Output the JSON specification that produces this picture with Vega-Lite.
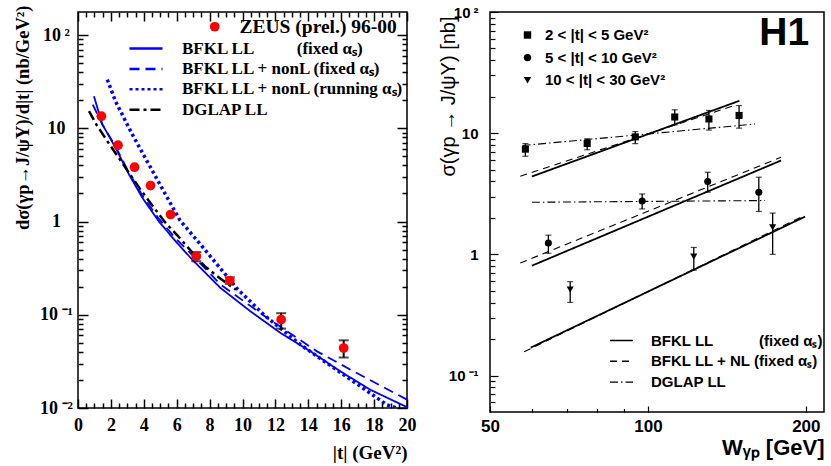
{
  "$schema": "https://vega.github.io/schema/vega-lite/v6.json",
  "background": "white",
  "padding": {"left": 12, "top": 4, "right": 0, "bottom": 0},
  "spacing": 83,
  "bounds": "flush",
  "resolve": {
    "scale": {"stroke": "independent", "strokeDash": "independent", "fill": "independent", "shape": "independent"},
    "legend": {"stroke": "independent", "strokeDash": "independent", "fill": "independent", "shape": "independent"}
  },
  "datasets": {
    "zeus": [
      {"t": 1.42, "xs": 13.5, "exp": "ZEUS (prel.) 96-00"},
      {"t": 2.43, "xs": 6.59, "exp": "ZEUS (prel.) 96-00"},
      {"t": 3.44, "xs": 3.83, "exp": "ZEUS (prel.) 96-00"},
      {"t": 4.41, "xs": 2.43, "exp": "ZEUS (prel.) 96-00"},
      {"t": 5.63, "xs": 1.19, "exp": "ZEUS (prel.) 96-00"},
      {"t": 7.19, "xs": 0.424, "lo": 0.375, "hi": 0.47, "exp": "ZEUS (prel.) 96-00"},
      {"t": 9.23, "xs": 0.233, "lo": 0.215, "hi": 0.252, "exp": "ZEUS (prel.) 96-00"},
      {"t": 12.35, "xs": 0.0887, "lo": 0.0711, "hi": 0.104, "exp": "ZEUS (prel.) 96-00"},
      {"t": 16.15, "xs": 0.044, "lo": 0.0348, "hi": 0.0532, "exp": "ZEUS (prel.) 96-00"}
    ],
    "curves": [
      {"model": "LL", "t": 0.97, "xs": 22.1},
      {"model": "LL", "t": 1.48, "xs": 11.0},
      {"model": "LL", "t": 2.28, "xs": 6.2},
      {"model": "LL", "t": 3.1, "xs": 3.2},
      {"model": "LL", "t": 3.91, "xs": 1.8},
      {"model": "LL", "t": 4.92, "xs": 1.0},
      {"model": "LL", "t": 5.93, "xs": 0.615},
      {"model": "LL", "t": 6.94, "xs": 0.391},
      {"model": "LL", "t": 8.66, "xs": 0.194},
      {"model": "LL", "t": 10.48, "xs": 0.109},
      {"model": "LL", "t": 12.31, "xs": 0.0638},
      {"model": "LL", "t": 14.13, "xs": 0.0405},
      {"model": "LL", "t": 15.95, "xs": 0.0247},
      {"model": "LL", "t": 17.77, "xs": 0.0157},
      {"model": "LL", "t": 20.0, "xs": 0.0102},
      {"model": "NLfix", "t": 0.9, "xs": 18.0},
      {"model": "NLfix", "t": 1.48, "xs": 11.0},
      {"model": "NLfix", "t": 2.3, "xs": 6.3},
      {"model": "NLfix", "t": 3.1, "xs": 3.35},
      {"model": "NLfix", "t": 3.9, "xs": 1.92},
      {"model": "NLfix", "t": 4.9, "xs": 1.08},
      {"model": "NLfix", "t": 5.9, "xs": 0.67},
      {"model": "NLfix", "t": 6.94, "xs": 0.44},
      {"model": "NLfix", "t": 8.66, "xs": 0.211},
      {"model": "NLfix", "t": 11.5, "xs": 0.0925},
      {"model": "NLfix", "t": 14.53, "xs": 0.0405},
      {"model": "NLfix", "t": 16.76, "xs": 0.0247},
      {"model": "NLfix", "t": 20.0, "xs": 0.0123},
      {"model": "NLrun", "t": 1.78, "xs": 33.4},
      {"model": "NLrun", "t": 2.28, "xs": 19.5},
      {"model": "NLrun", "t": 3.3, "xs": 8.6},
      {"model": "NLrun", "t": 4.31, "xs": 4.09},
      {"model": "NLrun", "t": 5.32, "xs": 1.95},
      {"model": "NLrun", "t": 6.2, "xs": 1.03},
      {"model": "NLrun", "t": 7.45, "xs": 0.567},
      {"model": "NLrun", "t": 9.68, "xs": 0.19},
      {"model": "NLrun", "t": 11.3, "xs": 0.1},
      {"model": "NLrun", "t": 13.52, "xs": 0.0478},
      {"model": "NLrun", "t": 15.55, "xs": 0.0269},
      {"model": "NLrun", "t": 17.16, "xs": 0.0171},
      {"model": "NLrun", "t": 18.78, "xs": 0.0108},
      {"model": "NLrun", "t": 19.4, "xs": 0.01},
      {"model": "DGLAP", "t": 0.67, "xs": 15.3},
      {"model": "DGLAP", "t": 1.11, "xs": 11.0},
      {"model": "DGLAP", "t": 1.78, "xs": 7.3},
      {"model": "DGLAP", "t": 2.45, "xs": 4.9},
      {"model": "DGLAP", "t": 3.13, "xs": 3.27},
      {"model": "DGLAP", "t": 3.83, "xs": 2.17},
      {"model": "DGLAP", "t": 4.55, "xs": 1.46},
      {"model": "DGLAP", "t": 5.28, "xs": 0.99},
      {"model": "DGLAP", "t": 6.09, "xs": 0.695},
      {"model": "DGLAP", "t": 6.89, "xs": 0.48},
      {"model": "DGLAP", "t": 7.7, "xs": 0.332},
      {"model": "DGLAP", "t": 8.67, "xs": 0.243},
      {"model": "DGLAP", "t": 9.6, "xs": 0.186}
    ],
    "h1pts": [
      {"bin": "2 < |t| < 5 GeV²", "W": 58.4, "xs": 7.38, "lo": 6.45, "hi": 8.2},
      {"bin": "2 < |t| < 5 GeV²", "W": 76.6, "xs": 8.22, "lo": 7.3, "hi": 8.99},
      {"bin": "2 < |t| < 5 GeV²", "W": 94.6, "xs": 9.32, "lo": 8.2, "hi": 10.3},
      {"bin": "2 < |t| < 5 GeV²", "W": 112.5, "xs": 13.6, "lo": 11.7, "hi": 15.6},
      {"bin": "2 < |t| < 5 GeV²", "W": 130.7, "xs": 13.1, "lo": 10.6, "hi": 15.4},
      {"bin": "2 < |t| < 5 GeV²", "W": 149.2, "xs": 14.0, "lo": 11.0, "hi": 16.9},
      {"bin": "5 < |t| < 10 GeV²", "W": 64.6, "xs": 1.24, "lo": 1.02, "hi": 1.44},
      {"bin": "5 < |t| < 10 GeV²", "W": 97.5, "xs": 2.76, "lo": 2.37, "hi": 3.15},
      {"bin": "5 < |t| < 10 GeV²", "W": 130.0, "xs": 3.99, "lo": 3.26, "hi": 4.76},
      {"bin": "5 < |t| < 10 GeV²", "W": 162.7, "xs": 3.25, "lo": 2.26, "hi": 4.33},
      {"bin": "10 < |t| < 30 GeV²", "W": 71.1, "xs": 0.511, "lo": 0.401, "hi": 0.595},
      {"bin": "10 < |t| < 30 GeV²", "W": 122.3, "xs": 0.957, "lo": 0.742, "hi": 1.14},
      {"bin": "10 < |t| < 30 GeV²", "W": 172.9, "xs": 1.67, "lo": 1.0, "hi": 2.19}
    ],
    "h1fits": [
      {"bin": "2-5", "model": "BFKL LL", "W": 60.1, "xs": 4.39},
      {"bin": "2-5", "model": "BFKL LL", "W": 149.4, "xs": 18.5},
      {"bin": "2-5", "model": "BFKL LL + NL", "W": 57.1, "xs": 4.41},
      {"bin": "2-5", "model": "BFKL LL + NL", "W": 146.0, "xs": 16.9},
      {"bin": "2-5", "model": "DGLAP LL", "W": 57.7, "xs": 7.91},
      {"bin": "2-5", "model": "DGLAP LL", "W": 160.0, "xs": 11.9},
      {"bin": "5-10", "model": "BFKL LL", "W": 60.1, "xs": 0.806},
      {"bin": "5-10", "model": "BFKL LL", "W": 179.4, "xs": 5.95},
      {"bin": "5-10", "model": "BFKL LL + NL", "W": 57.1, "xs": 0.848},
      {"bin": "5-10", "model": "BFKL LL + NL", "W": 179.4, "xs": 6.33},
      {"bin": "5-10", "model": "DGLAP LL", "W": 60.1, "xs": 2.69},
      {"bin": "5-10", "model": "DGLAP LL", "W": 167.2, "xs": 2.78},
      {"bin": "10-30", "model": "BFKL LL", "W": 59.8, "xs": 0.17},
      {"bin": "10-30", "model": "BFKL LL", "W": 199.4, "xs": 2.05},
      {"bin": "10-30", "model": "BFKL LL + NL", "W": 58.1, "xs": 0.157},
      {"bin": "10-30", "model": "BFKL LL + NL", "W": 196.0, "xs": 2.03}
    ],
    "badge": [{"label": "H1"}]
  },
  "hconcat": [
    {
      "width": 329,
      "height": 396,
      "resolve": {"axis": {"x": "independent", "y": "independent"}},
      "layer": [
        {
          "data": {"name": "curves"},
          "transform": [{"filter": "datum.model == 'LL'"}],
          "mark": {"type": "line", "strokeWidth": 1.8, "clip": true},
          "encoding": {
            "x": {"field": "t", "type": "quantitative", "scale": {"domain": [0, 20], "nice": false, "zero": false},
              "axis": {"orient": "bottom", "values": [0, 2, 4, 6, 8, 10, 12, 14, 16, 18, 20], "tickSize": -9, "tickWidth": 1.5,
                "labelExpr": "'' + datum.value", "labelFont": "Liberation Serif", "labelFontWeight": "bold", "labelFontSize": 18, "labelPadding": 17,
                "title": "|t| (GeV²)", "titleFont": "Liberation Serif", "titleFontWeight": "bold", "titleFontSize": 19, "titleAnchor": "end", "titlePadding": 9}},
            "y": {"field": "xs", "type": "quantitative", "scale": {"type": "log", "domain": [0.01, 177], "nice": false},
              "axis": {"orient": "left", "values": [0.01, 0.1, 1, 10, 100], "tickSize": -10, "tickWidth": 1.5,
                "labelExpr": "datum.value >= 50 ? '10\u2009²' : datum.value >= 5 ? '10' : datum.value >= 0.5 ? '1' : datum.value >= 0.05 ? '10\u2009⁻¹' : '10\u2009⁻²'",
                "labelAlign": "center", "labelBaseline": "middle", "labelFont": "Liberation Serif", "labelFontWeight": "bold", "labelFontSize": 18, "labelPadding": 32,
                "title": "dσ(γp→J/ψY)/d|t| (nb/GeV²)", "titleFont": "Liberation Serif", "titleFontWeight": "bold", "titleFontSize": 18.5, "titleAnchor": "end", "titlePadding": 7, "titleY": -7}},
            "stroke": {"field": "model", "type": "nominal",
              "scale": {"domain": ["LL", "NLfix", "NLrun", "DGLAP"], "range": ["#0000ff", "#0000ff", "#0000ff", "#000000"]},
              "legend": {"orient": "none", "legendX": 50, "legendY": 28, "direction": "vertical", "title": null, "padding": 0,
                "symbolType": "stroke", "symbolSize": 1089, "symbolStrokeWidth": 2.5, "clipHeight": 17, "rowPadding": 2.4,
                "labelFont": "Liberation Serif", "labelFontWeight": "bold", "labelFontSize": 17, "labelColor": "black", "labelOffset": 18, "labelLimit": 400,
                "labelExpr": "datum.value == 'LL' ? 'BFKL LL\u00a0\u00a0\u00a0\u00a0\u00a0\u00a0\u00a0\u00a0\u00a0\u00a0(fixed αₛ)' : datum.value == 'NLfix' ? 'BFKL LL + nonL (fixed αₛ)' : datum.value == 'NLrun' ? 'BFKL LL + nonL (running αₛ)' : 'DGLAP LL'"}},
            "strokeDash": {"field": "model", "type": "nominal",
              "scale": {"domain": ["LL", "NLfix", "NLrun", "DGLAP"], "range": [[1, 0], [10, 6], [3, 3], [10, 4, 3, 4]]},
              "legend": {"orient": "none", "legendX": 50, "legendY": 28, "direction": "vertical", "title": null, "padding": 0,
                "symbolType": "stroke", "symbolSize": 1089, "symbolStrokeWidth": 2.5, "clipHeight": 17, "rowPadding": 2.4,
                "labelFont": "Liberation Serif", "labelFontWeight": "bold", "labelFontSize": 17, "labelColor": "black", "labelOffset": 18, "labelLimit": 400,
                "labelExpr": "datum.value == 'LL' ? 'BFKL LL\u00a0\u00a0\u00a0\u00a0\u00a0\u00a0\u00a0\u00a0\u00a0\u00a0(fixed αₛ)' : datum.value == 'NLfix' ? 'BFKL LL + nonL (fixed αₛ)' : datum.value == 'NLrun' ? 'BFKL LL + nonL (running αₛ)' : 'DGLAP LL'"}}
          }
        },
        {
          "data": {"name": "curves"},
          "transform": [{"filter": "datum.model == 'NLfix'"}],
          "mark": {"type": "line", "strokeWidth": 1.8, "clip": true},
          "encoding": {
            "x": {"field": "t", "type": "quantitative", "scale": {"domain": [0, 20], "nice": false, "zero": false},
              "axis": {"orient": "bottom", "values": [0.5, 1, 1.5, 2.5, 3, 3.5, 4.5, 5, 5.5, 6.5, 7, 7.5, 8.5, 9, 9.5, 10.5, 11, 11.5, 12.5, 13, 13.5, 14.5, 15, 15.5, 16.5, 17, 17.5, 18.5, 19, 19.5],
                "tickSize": -5, "tickWidth": 1.5, "labels": false, "title": null}},
            "y": {"field": "xs", "type": "quantitative", "scale": {"type": "log", "domain": [0.01, 177], "nice": false},
              "axis": {"orient": "left", "values": [0.02, 0.03, 0.04, 0.05, 0.06, 0.07, 0.08, 0.09, 0.2, 0.3, 0.4, 0.5, 0.6, 0.7, 0.8, 0.9, 2, 3, 4, 5, 6, 7, 8, 9, 20, 30, 40, 50, 60, 70, 80, 90],
                "tickSize": -5, "tickWidth": 1.5, "labels": false, "title": null}},
            "stroke": {"field": "model", "type": "nominal", "scale": {"domain": ["LL", "NLfix", "NLrun", "DGLAP"], "range": ["#0000ff", "#0000ff", "#0000ff", "#000000"]}, "legend": null},
            "strokeDash": {"field": "model", "type": "nominal", "scale": {"domain": ["LL", "NLfix", "NLrun", "DGLAP"], "range": [[1, 0], [10, 6], [3, 3], [10, 4, 3, 4]]}, "legend": null}
          }
        },
        {
          "data": {"name": "curves"},
          "transform": [{"filter": "datum.model == 'NLrun'"}],
          "mark": {"type": "line", "strokeWidth": 3.5, "clip": true},
          "encoding": {
            "x": {"field": "t", "type": "quantitative", "scale": {"domain": [0, 20], "nice": false, "zero": false},
              "axis": {"orient": "top", "values": [0, 2, 4, 6, 8, 10, 12, 14, 16, 18, 20], "tickSize": -9, "tickWidth": 1.5, "labels": false, "title": null}},
            "y": {"field": "xs", "type": "quantitative", "scale": {"type": "log", "domain": [0.01, 177], "nice": false},
              "axis": {"orient": "right", "values": [0.01, 0.1, 1, 10, 100], "tickSize": -10, "tickWidth": 1.5, "labels": false, "title": null}},
            "stroke": {"field": "model", "type": "nominal", "scale": {"domain": ["LL", "NLfix", "NLrun", "DGLAP"], "range": ["#0000ff", "#0000ff", "#0000ff", "#000000"]}, "legend": null},
            "strokeDash": {"field": "model", "type": "nominal", "scale": {"domain": ["LL", "NLfix", "NLrun", "DGLAP"], "range": [[1, 0], [10, 6], [3, 3], [10, 4, 3, 4]]}, "legend": null}
          }
        },
        {
          "data": {"name": "curves"},
          "transform": [{"filter": "datum.model == 'DGLAP'"}],
          "mark": {"type": "line", "strokeWidth": 2.5, "clip": true},
          "encoding": {
            "x": {"field": "t", "type": "quantitative", "scale": {"domain": [0, 20], "nice": false, "zero": false},
              "axis": {"orient": "top", "values": [0.5, 1, 1.5, 2.5, 3, 3.5, 4.5, 5, 5.5, 6.5, 7, 7.5, 8.5, 9, 9.5, 10.5, 11, 11.5, 12.5, 13, 13.5, 14.5, 15, 15.5, 16.5, 17, 17.5, 18.5, 19, 19.5],
                "tickSize": -5, "tickWidth": 1.5, "labels": false, "title": null}},
            "y": {"field": "xs", "type": "quantitative", "scale": {"type": "log", "domain": [0.01, 177], "nice": false},
              "axis": {"orient": "right", "values": [0.02, 0.03, 0.04, 0.05, 0.06, 0.07, 0.08, 0.09, 0.2, 0.3, 0.4, 0.5, 0.6, 0.7, 0.8, 0.9, 2, 3, 4, 5, 6, 7, 8, 9, 20, 30, 40, 50, 60, 70, 80, 90],
                "tickSize": -5, "tickWidth": 1.5, "labels": false, "title": null}},
            "stroke": {"field": "model", "type": "nominal", "scale": {"domain": ["LL", "NLfix", "NLrun", "DGLAP"], "range": ["#0000ff", "#0000ff", "#0000ff", "#000000"]}, "legend": null},
            "strokeDash": {"field": "model", "type": "nominal", "scale": {"domain": ["LL", "NLfix", "NLrun", "DGLAP"], "range": [[1, 0], [10, 6], [3, 3], [10, 4, 3, 4]]}, "legend": null}
          }
        },
        {
          "data": {"name": "zeus"},
          "transform": [{"filter": "isValid(datum.lo)"}],
          "mark": {"type": "rule", "color": "black", "strokeWidth": 2},
          "encoding": {
            "x": {"field": "t", "type": "quantitative", "axis": null},
            "y": {"field": "lo", "type": "quantitative", "axis": null},
            "y2": {"field": "hi"}
          }
        },
        {
          "data": {"name": "zeus"},
          "transform": [{"fold": ["lo", "hi"], "as": ["end", "v"]}, {"filter": "isValid(datum.v)"}],
          "mark": {"type": "tick", "orient": "horizontal", "color": "black", "size": 10, "thickness": 2},
          "encoding": {
            "x": {"field": "t", "type": "quantitative", "axis": null},
            "y": {"field": "v", "type": "quantitative", "axis": null}
          }
        },
        {
          "data": {"name": "zeus"},
          "mark": {"type": "point", "shape": "circle", "filled": true, "size": 95, "opacity": 1},
          "encoding": {
            "x": {"field": "t", "type": "quantitative", "axis": null},
            "y": {"field": "xs", "type": "quantitative", "axis": null},
            "fill": {"field": "exp", "type": "nominal", "scale": {"range": ["#ff0000"]},
              "legend": {"orient": "none", "legendX": 127, "legendY": 5, "title": null, "padding": 0, "symbolType": "circle", "symbolSize": 95,
                "labelFont": "Liberation Serif", "labelFontWeight": "bold", "labelFontSize": 19.5, "labelColor": "black", "labelOffset": 15, "labelLimit": 400}}
          }
        }
      ]
    },
    {
      "width": 334,
      "height": 400,
      "resolve": {"axis": {"x": "independent", "y": "independent"}},
      "layer": [
        {
          "data": {"name": "h1fits"},
          "transform": [{"filter": "datum.model == 'BFKL LL'"}],
          "mark": {"type": "line", "color": "black", "strokeWidth": 1.8, "clip": true},
          "encoding": {
            "x": {"field": "W", "type": "quantitative", "scale": {"type": "log", "domain": [50, 216.6], "nice": false},
              "axis": {"orient": "bottom", "values": [50, 100, 200], "tickSize": -6, "tickWidth": 1.2, "labelExpr": "'' + datum.value",
                "labelFont": "Liberation Sans", "labelFontWeight": "bold", "labelFontSize": 17, "labelPadding": 12,
                "title": "Wᵧₚ [GeV]", "titleFont": "Liberation Sans", "titleFontWeight": "bold", "titleFontSize": 22, "titleAnchor": "end", "titlePadding": 3}},
            "y": {"field": "xs", "type": "quantitative", "scale": {"type": "log", "domain": [0.05, 100], "nice": false},
              "axis": {"orient": "left", "values": [0.1, 1, 10, 100], "tickSize": -8, "tickWidth": 1.2,
                "labelExpr": "datum.value >= 50 ? '10\u2009²' : datum.value >= 5 ? '10' : datum.value >= 0.5 ? '1' : '10\u2009⁻¹'",
                "labelFont": "Liberation Sans", "labelFontWeight": "bold", "labelFontSize": 15, "labelPadding": 20, "labelBaseline": "middle",
                "title": "σ(γp → J/ψY) [nb]", "titleFont": "Liberation Sans", "titleFontWeight": "normal", "titleFontSize": 20, "titleAnchor": "end", "titlePadding": -10, "titleY": 4}},
            "strokeDash": {"field": "model", "type": "nominal",
              "scale": {"domain": ["BFKL LL", "BFKL LL + NL", "DGLAP LL"], "range": [[1, 0], [7, 5], [8, 3, 1.5, 3]]},
              "legend": {"orient": "none", "legendX": 119, "legendY": 321, "direction": "vertical", "title": null, "padding": 0,
                "symbolType": "stroke", "symbolSize": 529, "symbolStrokeWidth": 1.4, "symbolStrokeColor": "black", "clipHeight": 15, "rowPadding": 4.8,
                "labelFont": "Liberation Sans", "labelFontWeight": "bold", "labelFontSize": 15, "labelColor": "black", "labelOffset": 17, "labelLimit": 400,
                "labelExpr": "datum.value == 'BFKL LL' ? 'BFKL LL\u00a0\u00a0\u00a0\u00a0\u00a0\u00a0\u00a0\u00a0\u00a0\u00a0\u00a0(fixed αₛ)' : datum.value == 'BFKL LL + NL' ? 'BFKL LL + NL (fixed αₛ)' : 'DGLAP LL'"}},
            "detail": {"field": "bin"}
          }
        },
        {
          "data": {"name": "h1fits"},
          "transform": [{"filter": "datum.model == 'BFKL LL + NL'"}],
          "mark": {"type": "line", "color": "black", "strokeWidth": 1.1, "clip": true},
          "encoding": {
            "x": {"field": "W", "type": "quantitative", "scale": {"type": "log", "domain": [50, 216.6], "nice": false},
              "axis": {"orient": "bottom", "values": [60, 70, 80, 90], "tickSize": -3.5, "tickWidth": 1.2, "labels": false, "title": null}},
            "y": {"field": "xs", "type": "quantitative", "scale": {"type": "log", "domain": [0.05, 100], "nice": false},
              "axis": {"orient": "left", "values": [0.06, 0.07, 0.08, 0.09, 0.2, 0.3, 0.4, 0.5, 0.6, 0.7, 0.8, 0.9, 2, 3, 4, 5, 6, 7, 8, 9, 20, 30, 40, 50, 60, 70, 80, 90],
                "tickSize": -5, "tickWidth": 1.2, "labels": false, "title": null}},
            "strokeDash": {"field": "model", "type": "nominal", "scale": {"domain": ["BFKL LL", "BFKL LL + NL", "DGLAP LL"], "range": [[1, 0], [7, 5], [8, 3, 1.5, 3]]}, "legend": null},
            "detail": {"field": "bin"}
          }
        },
        {
          "data": {"name": "h1fits"},
          "transform": [{"filter": "datum.model == 'DGLAP LL'"}],
          "mark": {"type": "line", "color": "black", "strokeWidth": 1.1, "clip": true},
          "encoding": {
            "x": {"field": "W", "type": "quantitative", "axis": null},
            "y": {"field": "xs", "type": "quantitative", "axis": null},
            "strokeDash": {"field": "model", "type": "nominal", "scale": {"domain": ["BFKL LL", "BFKL LL + NL", "DGLAP LL"], "range": [[1, 0], [7, 5], [8, 3, 1.5, 3]]}, "legend": null},
            "detail": {"field": "bin"}
          }
        },
        {
          "data": {"name": "h1pts"},
          "mark": {"type": "rule", "color": "black", "strokeWidth": 1.3},
          "encoding": {
            "x": {"field": "W", "type": "quantitative", "axis": null},
            "y": {"field": "lo", "type": "quantitative", "axis": null},
            "y2": {"field": "hi"}
          }
        },
        {
          "data": {"name": "h1pts"},
          "transform": [{"fold": ["lo", "hi"], "as": ["end", "v"]}],
          "mark": {"type": "tick", "orient": "horizontal", "color": "black", "size": 6, "thickness": 1.2},
          "encoding": {
            "x": {"field": "W", "type": "quantitative", "axis": null},
            "y": {"field": "v", "type": "quantitative", "axis": null}
          }
        },
        {
          "data": {"name": "h1pts"},
          "mark": {"type": "point", "filled": true, "color": "black", "size": 50, "opacity": 1},
          "encoding": {
            "x": {"field": "W", "type": "quantitative", "axis": null},
            "y": {"field": "xs", "type": "quantitative", "axis": null},
            "shape": {"field": "bin", "type": "nominal",
              "scale": {"domain": ["2 < |t| < 5 GeV²", "5 < |t| < 10 GeV²", "10 < |t| < 30 GeV²"], "range": ["square", "circle", "triangle-down"]},
              "legend": {"orient": "none", "legendX": 30, "legendY": 15.5, "direction": "vertical", "title": null, "padding": 0,
                "symbolSize": 55, "symbolFillColor": "black", "symbolStrokeColor": "black", "symbolStrokeWidth": 0, "rowPadding": 6.6,
                "labelFont": "Liberation Sans", "labelFontWeight": "bold", "labelFontSize": 15, "labelColor": "black", "labelOffset": 10, "labelLimit": 400}}
          }
        },
        {
          "data": {"name": "badge"},
          "mark": {"type": "text", "font": "Liberation Sans", "fontWeight": "bold", "fontSize": 39, "align": "right", "baseline": "alphabetic", "color": "black"},
          "encoding": {
            "x": {"datum": 203, "type": "quantitative", "axis": null},
            "y": {"datum": 53, "type": "quantitative", "axis": null},
            "text": {"field": "label"}
          }
        }
      ]
    }
  ],
  "config": {
    "view": {"stroke": "black", "strokeWidth": 1.5},
    "axis": {"grid": false, "domain": false, "tickColor": "black", "labelColor": "black", "titleColor": "black", "labelFlush": false, "labelOverlap": false}
  }
}
